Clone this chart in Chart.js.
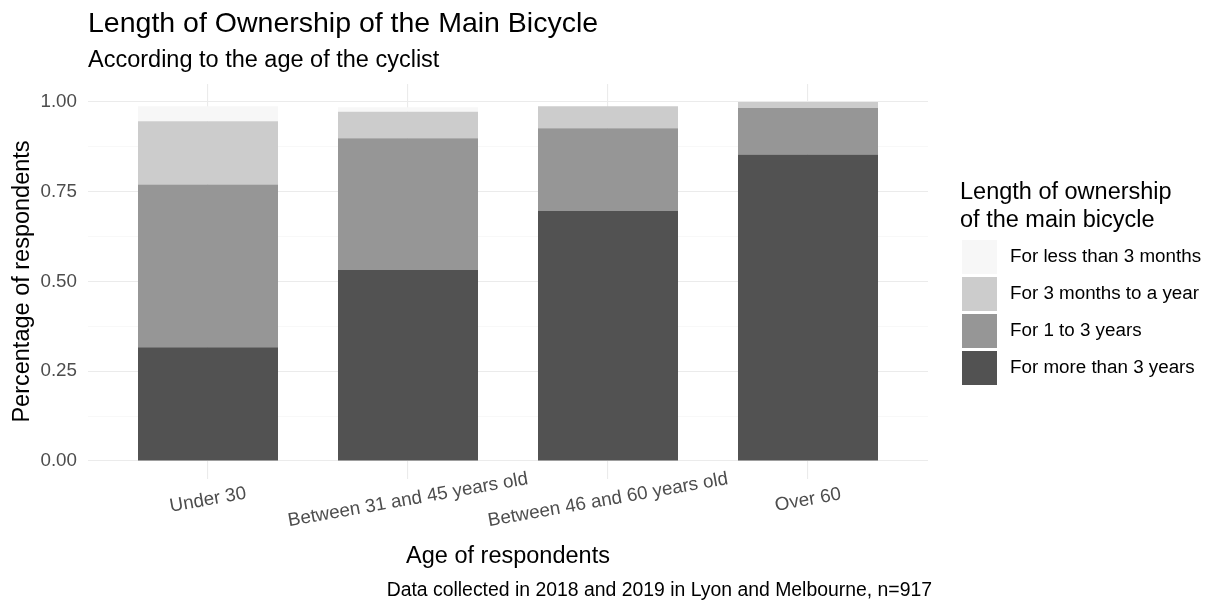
<!DOCTYPE html>
<html>
<head>
<meta charset="utf-8">
<script src="https://cdn.jsdelivr.net/npm/chart.js@4"></script>
<style>
  body { margin: 0; background: #fff; }
  canvas { display: block; }
</style>
</head>
<body>
<canvas id="chart" width="1211" height="602"></canvas>
<script>
// age groups on the x axis
const ageGroups = ["Under 30", "Between 31 and 45 years old", "Between 46 and 60 years old", "Over 60"];

// share of respondents, stacked bottom to top
const moreThan3Years = [0.317, 0.532, 0.696, 0.854];
const oneTo3Years = [0.453, 0.367, 0.231, 0.129];
const threeMonthsToYear = [0.176, 0.074, 0.061, 0.017];
const lessThan3Months = [0.042, 0.012, 0, 0];

const seriesLabels = ["For more than 3 years", "For 1 to 3 years", "For 3 months to a year", "For less than 3 months"];
const seriesColors = ["#525252", "#969696", "#cccccc", "#f7f7f7"];
const yTicks = [0, 0.25, 0.5, 0.75, 1];

const FONT = "'Liberation Sans', Arial, sans-serif";

function points(values) {
  return values.map((v, i) => ({ x: i + 1, y: v }));
}

const allSeries = [moreThan3Years, oneTo3Years, threeMonthsToYear, lessThan3Months];

const datasets = allSeries.map((vals, i) => ({
  label: seriesLabels[i],
  data: points(vals),
  backgroundColor: seriesColors[i],
  borderWidth: 0,
  barPercentage: 0.7,
  categoryPercentage: 1,
}));

function isMajor(v) {
  return Math.abs(v * 4 - Math.round(v * 4)) < 1e-6;
}

// texts that ggplot puts outside the panel
const extraText = {
  id: "extraText",
  afterDraw(chart) {
    const ctx = chart.ctx;
    const area = chart.chartArea;
    const xs = chart.scales.x;
    ctx.save();

    ctx.fillStyle = "#000";
    ctx.textAlign = "left";
    ctx.textBaseline = "alphabetic";
    ctx.font = "28.5px " + FONT;
    ctx.fillText("Length of Ownership of the Main Bicycle", area.left, 32);
    ctx.font = "23.5px " + FONT;
    ctx.fillText("According to the age of the cyclist", area.left, 67);

    // rotated category labels
    ctx.fillStyle = "#4d4d4d";
    ctx.font = "18.8px " + FONT;
    ctx.textAlign = "center";
    ctx.textBaseline = "middle";
    ageGroups.forEach((g, i) => {
      ctx.save();
      ctx.translate(xs.getPixelForValue(i + 1), 500);
      ctx.rotate(-10 * Math.PI / 180);
      ctx.fillText(g, 0, 0);
      ctx.restore();
    });

    ctx.fillStyle = "#000";
    ctx.textBaseline = "alphabetic";
    ctx.font = "23.5px " + FONT;
    ctx.fillText("Age of respondents", (area.left + area.right) / 2, 563);

    ctx.textAlign = "right";
    ctx.font = "19.4px " + FONT;
    ctx.fillText("Data collected in 2018 and 2019 in Lyon and Melbourne, n=917", area.right + 4, 596);

    // legend, lightest on top like the original
    ctx.textAlign = "left";
    ctx.font = "23.5px " + FONT;
    ctx.fillText("Length of ownership", 960, 199);
    ctx.fillText("of the main bicycle", 960, 227);
    ctx.font = "18.8px " + FONT;
    ctx.textBaseline = "middle";
    const items = chart.data.datasets.slice().reverse();
    items.forEach((ds, i) => {
      const top = 240 + i * 37;
      ctx.fillStyle = ds.backgroundColor;
      ctx.fillRect(962, top, 35, 34);
      ctx.fillStyle = "#000";
      ctx.fillText(ds.label, 1010, top + 17);
    });

    ctx.restore();
  },
};

new Chart(document.getElementById("chart"), {
  type: "bar",
  data: { datasets },
  options: {
    responsive: false,
    animation: false,
    layout: { padding: { top: 84, right: 283, bottom: 123, left: 0 } },
    plugins: {
      legend: { display: false },
      tooltip: { enabled: false },
    },
    scales: {
      x: {
        type: "linear",
        min: 0.4,
        max: 4.6,
        offset: false,
        stacked: true,
        border: { display: false },
        grid: { offset: false, color: "#ebebeb", lineWidth: 1.1, drawTicks: false },
        ticks: { display: false, stepSize: 1, includeBounds: false },
        afterFit(scale) { scale.height = 0; },
      },
      y: {
        min: -0.05,
        max: 1.05,
        stacked: true,
        border: { display: false },
        grid: {
          drawTicks: false,
          color: (c) => (isMajor(c.tick.value) ? "#ebebeb" : "#f5f5f5"),
          lineWidth: (c) => (isMajor(c.tick.value) ? 1.1 : 0.7),
        },
        ticks: {
          stepSize: 0.125,
          includeBounds: false,
          padding: 11,
          color: "#4d4d4d",
          font: { family: FONT, size: 18.8 },
          callback: (v) => (yTicks.some((t) => Math.abs(t - v) < 1e-6) ? v.toFixed(2) : ""),
        },
        title: {
          display: true,
          text: "Percentage of respondents",
          color: "#000",
          font: { family: FONT, size: 23.5 },
          padding: { top: 8, bottom: 0 },
        },
        afterFit(scale) { scale.width = 88; },
      },
    },
  },
  plugins: [extraText],
});
</script>
</body>
</html>
